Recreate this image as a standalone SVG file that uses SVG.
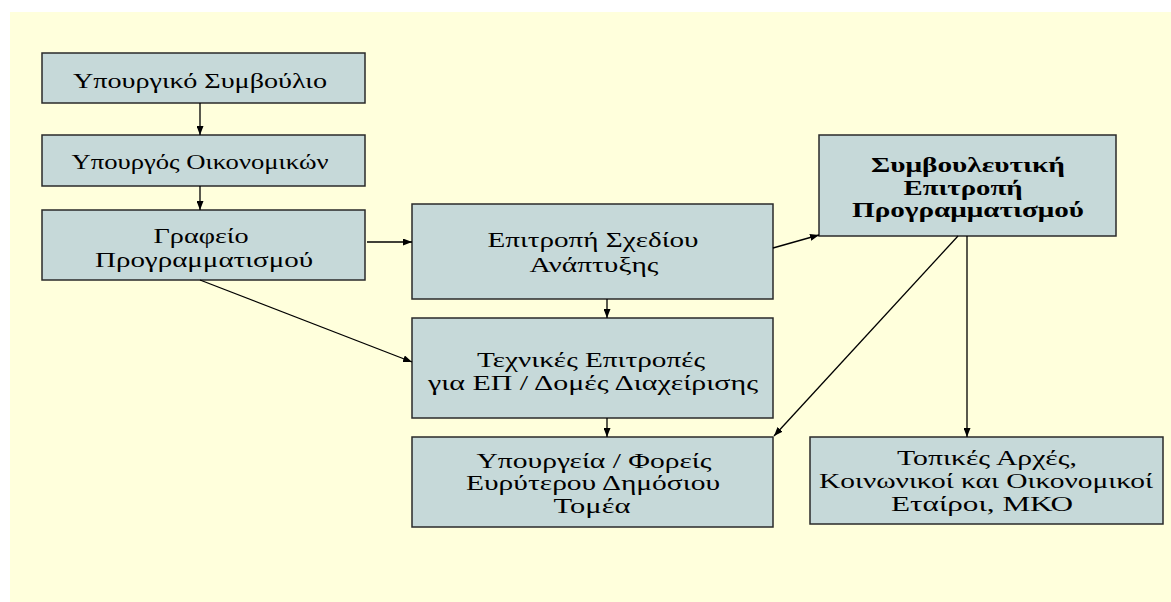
<svg xmlns="http://www.w3.org/2000/svg" width="1171" height="602" viewBox="0 0 1171 602">
<style>
.box{fill:#C6D9D9;stroke:#2a2a2a;stroke-width:1.5}
.t{font-family:'Liberation Serif','Times New Roman','DejaVu Serif',serif;font-size:20px;fill:#000;text-anchor:middle}
.b{font-weight:bold}
.c{stroke:#000;stroke-width:1.3;fill:none;marker-end:url(#ah)}
</style>
<defs>
<marker id="ah" viewBox="0 0 10 10" refX="10" refY="5" markerWidth="9" markerHeight="7" markerUnits="userSpaceOnUse" orient="auto" preserveAspectRatio="none">
<path d="M0,0 L10,5 L0,10 z" fill="#000"/>
</marker>
</defs>
<rect x="10" y="12" width="1161" height="590" fill="#FFFFDC"/>
<g id="n1"><rect class="box" x="42" y="53" width="323" height="50"/><text class="t" x="200" y="88" textLength="254" lengthAdjust="spacingAndGlyphs">Υπουργικό Συμβούλιο</text></g>
<g id="n2"><rect class="box" x="42" y="135" width="323" height="51"/><text class="t" x="200" y="169" textLength="257" lengthAdjust="spacingAndGlyphs">Υπουργός Οικονομικών</text></g>
<g id="n3"><rect class="box" x="42" y="210" width="323" height="70"/><text class="t" x="201" y="243" textLength="95" lengthAdjust="spacingAndGlyphs">Γραφείο</text><text class="t" x="204" y="267" textLength="218" lengthAdjust="spacingAndGlyphs">Προγραμματισμού</text></g>
<g id="n4"><rect class="box" x="412" y="204" width="361" height="95"/><text class="t" x="593" y="247" textLength="211" lengthAdjust="spacingAndGlyphs">Επιτροπή Σχεδίου</text><text class="t" x="594" y="272" textLength="129" lengthAdjust="spacingAndGlyphs">Ανάπτυξης</text></g>
<g id="n5"><rect class="box" x="412" y="318" width="361" height="100"/><text class="t" x="591" y="367" textLength="228" lengthAdjust="spacingAndGlyphs">Τεχνικές Επιτροπές</text><text class="t" x="593" y="390" textLength="330" lengthAdjust="spacingAndGlyphs">για ΕΠ / Δομές Διαχείρισης</text></g>
<g id="n6"><rect class="box" x="412" y="437" width="361" height="90"/><text class="t" x="594" y="468" textLength="235" lengthAdjust="spacingAndGlyphs">Υπουργεία / Φορείς</text><text class="t" x="593" y="490" textLength="254" lengthAdjust="spacingAndGlyphs">Ευρύτερου Δημόσιου</text><text class="t" x="592" y="513" textLength="77" lengthAdjust="spacingAndGlyphs">Τομέα</text></g>
<g id="n7"><rect class="box" x="819" y="135" width="297" height="101"/><text class="t b" x="968" y="172" textLength="194" lengthAdjust="spacingAndGlyphs">Συμβουλευτική</text><text class="t b" x="963" y="195" textLength="119" lengthAdjust="spacingAndGlyphs">Επιτροπή</text><text class="t b" x="968" y="217" textLength="232" lengthAdjust="spacingAndGlyphs">Προγραμματισμού</text></g>
<g id="n8"><rect class="box" x="810" y="437" width="353" height="87"/><text class="t" x="987" y="465" textLength="180" lengthAdjust="spacingAndGlyphs">Τοπικές Αρχές,</text><text class="t" x="986" y="488" textLength="334" lengthAdjust="spacingAndGlyphs">Κοινωνικοί και Οικονομικοί</text><text class="t" x="982" y="511" textLength="182" lengthAdjust="spacingAndGlyphs">Εταίροι, ΜΚΟ</text></g>
<g id="connectors">
<line class="c" x1="200" y1="103" x2="200" y2="135"/>
<line class="c" x1="200" y1="186" x2="200" y2="210"/>
<line class="c" x1="367" y1="242" x2="412" y2="242"/>
<line class="c" x1="200" y1="280" x2="412" y2="362"/>
<line class="c" x1="607" y1="299" x2="607" y2="318"/>
<line class="c" x1="607" y1="418" x2="607" y2="437"/>
<line class="c" x1="773" y1="248" x2="819" y2="235"/>
<line class="c" x1="958" y1="236" x2="774" y2="436"/>
<line class="c" x1="967" y1="236" x2="967" y2="437"/>
</g>
</svg>
